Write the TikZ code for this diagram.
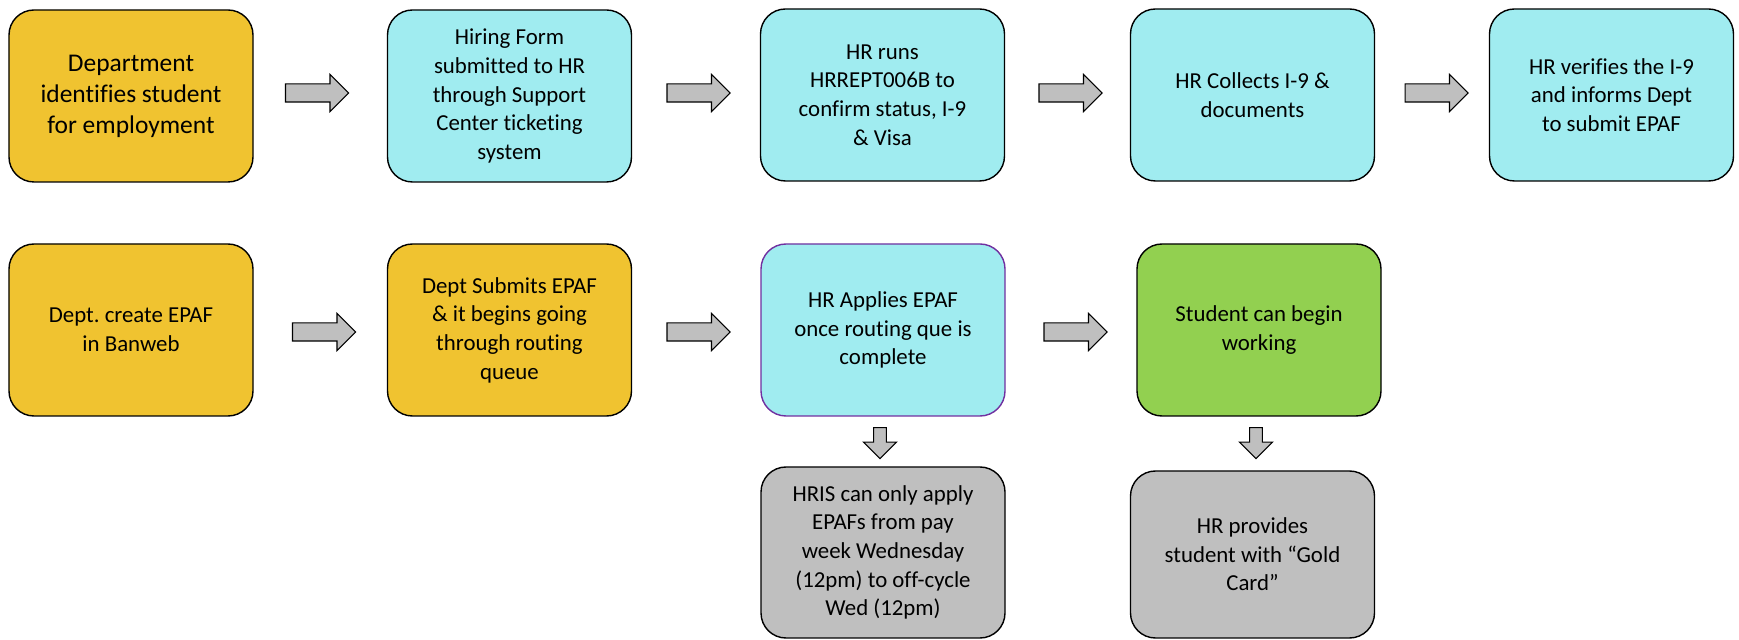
\documentclass[tikz,border=0pt]{standalone}
\usepackage{fontspec}
\setmainfont{Carlito}[Ligatures=NoCommon]
\usetikzlibrary{shapes.arrows}
\definecolor{deptyellow}{HTML}{F0C330}
\definecolor{hrcyan}{HTML}{A0ECF0}
\definecolor{donegreen}{HTML}{92D050}
\definecolor{notegray}{HTML}{BFBFBF}
\definecolor{edgepurple}{HTML}{7030A0}
\tikzset{
  stepbox/.style={draw=black,line width=0.8pt,rounded corners=0.5cm,minimum width=4.88cm,minimum height=3.44cm,align=center,inner sep=2pt,font=\fontsize{13}{16.3}\selectfont},
  deptbox/.style={stepbox,fill=deptyellow},
  hrbox/.style={stepbox,fill=hrcyan},
  notebox/.style={stepbox,fill=notegray},
  rightarrow/.style={single arrow,draw=black,fill=notegray,line width=0.6pt,minimum height=1.26cm,minimum width=0.72cm,inner sep=0.17cm,single arrow head extend=0.19cm,single arrow tip angle=90},
  downarrow/.style={single arrow,draw=black,fill=notegray,line width=0.6pt,shape border rotate=270,minimum height=0.62cm,minimum width=0.66cm,inner sep=0.085cm,single arrow head extend=0.155cm,single arrow tip angle=90}
}
\begin{document}
\begin{tikzpicture}
  \useasboundingbox (0,0) rectangle (34.78,-12.8);

  % first row
  \node[deptbox,font=\fontsize{14.5}{17.6}\selectfont] (identify) at (2.62,-1.92) {Department\\identifies student\\for employment};
  \node[hrbox] (hiring) at (10.19,-1.92) {Hiring Form\\submitted to HR\\through Support\\Center ticketing\\system};
  \node[hrbox] (report) at (17.65,-1.90) {HR runs\\HRREPT006B to\\confirm status, I-9\\\& Visa};
  \node[hrbox] (collect) at (25.05,-1.90) {HR Collects I-9 \&\\documents};
  \node[hrbox] (verify) at (32.23,-1.90) {HR verifies the I-9\\and informs Dept\\to submit EPAF};

  \node[rightarrow] (identify-hiring) at (6.25,-1.86) {};
  \node[rightarrow] (hiring-report) at (13.88,-1.86) {};
  \node[rightarrow] (report-collect) at (21.32,-1.86) {};
  \node[rightarrow] (collect-verify) at (28.64,-1.86) {};

  % second row
  \node[deptbox] (create) at (2.62,-6.60) {Dept.\ create EPAF\\in Banweb};
  \node[deptbox] (submit) at (10.19,-6.60) {Dept Submits EPAF\\\& it begins going\\through routing\\queue};
  \node[hrbox,draw=edgepurple] (apply) at (17.66,-6.60) {HR Applies EPAF\\once routing que is\\complete};
  \node[stepbox,fill=donegreen] (working) at (25.18,-6.60) {Student can begin\\working};

  \node[rightarrow] (create-submit) at (6.39,-6.64) {};
  \node[rightarrow] (submit-apply) at (13.88,-6.64) {};
  \node[rightarrow] (apply-working) at (21.42,-6.64) {};

  % notes below
  \node[downarrow] (apply-window) at (17.60,-8.80) {};
  \node[downarrow] (working-card) at (25.12,-8.80) {};

  \node[notebox,minimum height=3.42cm] (window) at (17.66,-11.05) {HRIS can only apply\\EPAFs from pay\\week Wednesday\\(12pm) to off-cycle\\Wed (12pm)};
  \node[notebox,minimum height=3.34cm] (card) at (25.05,-11.09) {HR provides\\student with “Gold\\Card”};
\end{tikzpicture}
\end{document}
